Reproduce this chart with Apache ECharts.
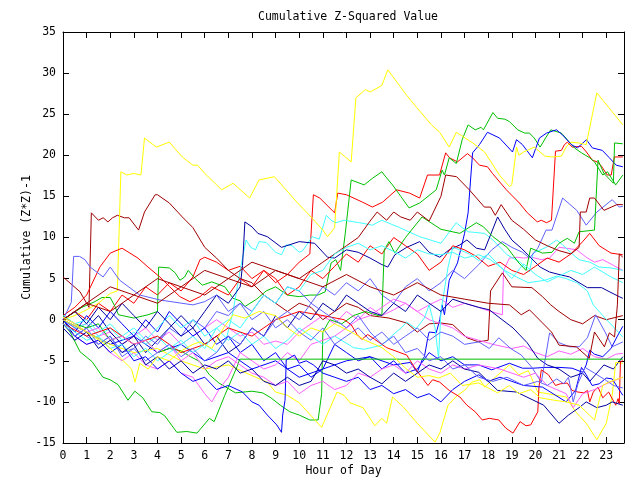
<!DOCTYPE html>
<html><head><meta charset="utf-8">
<script src="https://cdn.jsdelivr.net/npm/echarts@6/dist/echarts.min.js"></script>
<style>html,body{margin:0;padding:0;background:#fff}#c{width:640px;height:480px}</style>
</head><body><div id="c"></div>
<script>
// ---- data: [hour, cumulative value] breakpoints ----
const yTicks = [-15,-10,-5,0,5,10,15,20,25,30,35];
const xTicks = [0,1,2,3,4,5,6,7,8,9,10,11,12,13,14,15,16,17,18,19,20,21,22,23];

const R1 = [[0,0],[0.5,1],[1,0],[1.5,2],[2,1],[2.5,3],[3,2],[3.5,4],[4,3],[4.5,4.5],[5,3.5],[5.5,5.2],[5.8,7.3],[6,7.6],[6.5,7],[7,6],[7.5,6.5],[8,5],[8.5,6],[9,4.5],[9.5,5.5],[10,7],[10.45,8],[10.6,15.2],[10.87,14.8],[11.5,13],[11.63,15.4],[12,15.2],[12.68,14.3],[13.1,13.7],[13.53,14.3],[14.12,15.8],[14.67,15.4],[15.1,14.8],[15.43,17.6],[15.94,17.6],[16.2,20.3],[16.36,19.7],[16.7,19.2],[17.12,20.2],[17.34,19.7],[17.63,18.8],[17.97,18.6],[18.18,17.8],[18.77,15.8],[19.32,14.2],[19.66,13],[20.08,11.9],[20.25,12.1],[20.47,11.8],[20.68,12.1],[20.85,20.5],[21.1,20.6],[21.23,21.3],[21.35,21.6],[21.56,21],[21.95,21.1],[22.16,20.4],[22.41,19.4],[22.62,19.2],[22.79,18.7],[23.04,17.6],[23.21,17.6],[23.34,19.8],[23.7,19.8]];
const R2 = [[0,0.5],[0.5,1.5],[1,3],[1.56,6.4],[2,8.1],[2.5,8.7],[3.17,7.5],[3.6,6.4],[4.1,5.2],[4.52,4],[4.95,2.8],[5.37,2.2],[5.8,2.8],[6.3,4],[7,3],[7.5,5],[8,4],[8.5,6],[9,5],[9.5,3],[10,4],[10.5,6],[11,5],[11.5,6.5],[12,8],[12.5,7],[13,9],[13.5,8],[14,10],[14.5,9],[15,8],[15.5,6],[16,7],[16.5,9],[17,8.5],[17.5,7.7],[18,6.5],[18.5,7],[19,6],[19.5,5.5],[20,6.5],[20.5,7.5],[21,7],[21.5,8],[22,9.5],[22.3,10.5],[22.7,9],[23.2,8.1],[23.7,7.9]];
const R3 = [[0,-0.5],[1,-2],[2,-1],[3,-3],[4,-2],[5,-4],[6,-3],[7,-1],[8,-2],[9,0],[10,1],[11,0.5],[11.9,0],[12.2,-0.6],[12.45,-1.8],[12.65,-2.4],[12.9,-1.8],[13.2,-2.4],[13.7,-3.4],[14.55,-4.3],[14.95,-6.1],[15.45,-8],[15.65,-7.3],[15.95,-7.6],[16.35,-8.6],[16.8,-9.4],[17.1,-10.4],[17.45,-11.2],[17.75,-12.2],[18.05,-12],[18.45,-12.2],[18.75,-13.2],[19.05,-13.8],[19.35,-12.4],[19.6,-12.9],[19.8,-12.8],[20.1,-11.2],[20.15,-8.2],[20.25,-6.1],[20.55,-6.7],[20.85,-8],[21.05,-7.8],[21.35,-7.7],[21.55,-8.6],[21.8,-8.8],[22.05,-8.9],[22.2,-8.6],[22.3,-10],[22.45,-8.8],[22.65,-8.2],[22.85,-9.5],[23.1,-8.8],[23.4,-10.4],[23.5,-9.6],[23.55,-10.2],[23.6,-5.1],[23.7,-5]];

const G1 = [[0,0],[0.8,1.5],[1.35,2.2],[1.65,2.7],[2,2.7],[2.2,1.6],[2.35,0.6],[3,0.2],[3.6,0.6],[4.0,1.0],[4.05,6.4],[4.5,6.3],[4.75,5.7],[4.95,4.8],[5.15,5.2],[5.3,6.0],[5.6,5],[5.9,4.2],[6.3,4.6],[6.85,4.0],[7.2,2.6],[7.5,2.3],[7.7,1.6],[8.2,2.5],[8.6,3.5],[9,4],[9.5,3],[10,2.8],[10.45,3.0],[10.8,3.0],[11.1,3.4],[11.35,6.9],[11.55,7.3],[11.75,6],[11.95,10.5],[12.2,17],[12.75,16.4],[13.1,17.2],[13.5,18],[13.6,17.6],[13.95,16.4],[14.3,15],[14.65,13.6],[15.1,14.2],[15.8,15.8],[16.05,18.2],[16.15,17.6],[16.35,19.7],[16.65,19],[16.9,21.9],[17.15,23.7],[17.45,23.1],[17.7,23.4],[17.8,23.1],[18.2,25.2],[18.4,24.5],[18.7,24.4],[18.9,24.1],[19.25,23.1],[19.55,22.7],[19.75,22.7],[19.95,22.1],[20.2,21],[20.45,22.2],[20.65,23.1],[21.1,22.7],[21.35,21.9],[21.65,20.9],[21.95,20.3],[22.3,19.7],[22.5,19.2],[22.85,17.6],[23.05,18],[23.4,16.4],[23.7,17.6]];
const G2 = [[0,0.5],[0.5,-0.5],[1,-1],[1.5,-0.5],[2,-2.5],[2.5,-2],[3,-3],[3.5,-2.5],[4,-4],[4.5,-3.5],[5,-3.8],[5.4,-4.5],[5.8,-5.1],[6.2,-6.7],[6.6,-7.7],[7.3,-8.9],[8.0,-8.7],[8.45,-8.9],[8.8,-9.5],[9.2,-10.4],[9.6,-11.2],[10.0,-11.6],[10.45,-12.2],[10.8,-12.2],[10.95,-9],[11.0,-1.5],[11.3,0],[11.8,-0.5],[12.3,0.5],[12.8,1],[13.35,0.5],[13.5,0.6],[13.6,8.5],[13.8,9.5],[14.05,8.1],[14.5,10],[15.2,12.5],[16,11],[16.8,10.5],[17.5,11.8],[17.8,11.3],[18.2,10.1],[18.8,8.8],[19.3,6.9],[19.6,6.0],[19.8,8.7],[20.3,8.1],[20.7,8.2],[21.0,9.3],[21.35,9.9],[21.65,9.3],[21.85,10.7],[22.5,10.9],[22.65,19.4],[22.9,17.8],[23.3,16.6],[23.35,21.5],[23.7,21.4]];
const G3 = [[0,-0.5],[0.3,-1.5],[0.72,-3.9],[1.23,-5.1],[1.69,-7],[1.99,-7.3],[2.33,-7.9],[2.75,-9.8],[3.04,-8.7],[3.38,-9.5],[3.76,-11.2],[4.1,-11.3],[4.31,-11.7],[4.82,-13.7],[5.24,-13.6],[5.67,-13.8],[5.79,-13.4],[6.2,-12],[6.4,-12.4],[6.85,-9.2],[7.4,-5.5],[7.48,-4.8],[23.7,-4.8]];

const B1 = [[0,0],[1,-1.5],[2,-3],[3,-2],[4,-4],[5,-3],[6,-5],[7,-4],[8,-6],[9,-5],[10,-7],[11,-6],[12,-5],[13,-4.5],[14,-5.5],[14.7,-5.2],[15.0,-6.4],[15.2,-4.9],[15.3,-4.5],[15.45,-2.1],[15.5,-1.5],[15.8,-1.6],[15.95,0],[16.05,1.8],[16.15,0.6],[16.35,4.8],[16.7,6.9],[17.0,10.5],[17.15,13],[17.34,20.3],[17.63,21.3],[17.97,22.8],[18.48,22.1],[19.03,20.4],[19.2,21.9],[19.45,21.3],[19.87,19.7],[20.17,22.1],[20.47,22.7],[20.89,23.1],[21.14,22.5],[21.52,21.3],[21.78,20.9],[22.16,21.9],[22.41,20.9],[22.83,20.6],[23.13,19.7],[23.42,18.8],[23.7,18.6]];
const B2 = [[0,0],[0.5,-1.5],[1,0.5],[1.5,-1],[2,1],[2.5,-0.5],[3,-2],[3.5,0],[4,-1.5],[4.5,1],[5,-0.5],[5.5,-2],[6,-1],[6.5,-3],[7,-2],[7.5,-4],[8,-3],[8.5,-5],[9,-4],[9.5,-6],[10,-5.5],[10.5,-7],[11,-6],[11.5,-3],[12,-4],[12.5,-5],[13,-4.5],[13.5,-6],[14,-5],[14.5,-6.5],[15,-6],[15.5,-4],[16,-5],[16.5,-4.5],[17,-5.5],[17.6,-5.5],[18.15,-6.1],[18.9,-5.3],[19.45,-5.9],[19.9,-5.9],[20.45,-5.8],[21,-5.8],[21.55,-5.9],[22,-6.4],[22.15,-5.5],[22.3,-3.7],[22.5,-4.2],[22.85,-4.5],[23.2,-3.5],[23.45,-2.1],[23.7,-0.8]];
const B3 = [[0,-0.5],[0.5,-2],[1,-3],[1.5,-2.5],[2,-4],[2.5,-3],[3,-5],[3.5,-4.5],[4,-6],[4.5,-5],[5,-6.5],[5.5,-7.5],[6,-7],[6.5,-8.5],[7,-8],[7.6,-8.8],[8,-10],[8.3,-10.4],[8.65,-11.6],[9.05,-12.8],[9.25,-13.7],[9.3,-11.6],[9.4,-9.8],[9.45,-4.9],[9.8,-4.3],[10.0,-5.3],[10.3,-5],[10.6,-5.5],[11,-6.5],[11.5,-7],[12,-7.5],[12.5,-7],[13,-8.5],[13.5,-8],[14,-9],[14.5,-8.5],[15,-9.5],[15.5,-9],[16,-10],[16.5,-8.5],[17,-7.5],[17.6,-6.7],[18.0,-7.5],[18.5,-7],[19,-7.5],[19.5,-8],[20.3,-8.2],[21.3,-10],[21.7,-8.6],[21.95,-5.8],[22.15,-6.7],[22.4,-8],[22.7,-7.8],[23.0,-7.1],[23.25,-7.2],[23.7,-9.2]];

const N1 = [[0,0],[0.5,-2],[1,-1],[1.5,0.5],[2,-1.5],[2.5,-3],[3,-2],[3.5,-4],[4,-2.5],[4.5,-1],[5,0.5],[5.5,-1],[6,1],[6.5,3],[7,2],[7.5,4],[7.6,6.6],[7.7,11.9],[8.0,11.3],[8.25,10.5],[8.65,10.1],[9.25,8.8],[10,9.5],[10.65,9.3],[11.2,7.6],[11.5,7.5],[12,8.5],[12.5,8.2],[13,7.5],[13.5,6.7],[13.75,6.4],[14.05,7.9],[14.55,8.8],[15.1,9.5],[15.5,8.2],[15.95,7.6],[16.35,8.5],[16.8,9.1],[17.1,9.7],[17.5,8.7],[17.85,8.5],[18.4,12.5],[18.7,11],[19.0,9.7],[19.4,8.7],[20.2,6.4],[20.6,5.8],[21.0,5.5],[21.45,5.2],[22.2,3.9],[22.8,3.9],[23.2,3.3],[23.55,2.8],[23.7,2.6]];
const N2 = [[0,0],[0.5,1],[1,-0.5],[1.5,1.5],[2,0],[2.5,2],[3,0.5],[3.5,-1],[4,1],[4.5,-0.5],[5,-2],[5.5,-1],[6,-3],[6.5,-2],[7,-4],[7.5,-3],[8,-1],[8.5,-2],[9,0.5],[9.5,-1],[10,1],[10.5,0],[11,2],[11.5,1],[12,3],[12.5,2],[13,1],[13.5,0.5],[14,2],[14.5,1],[15,3],[15.5,2],[16,1],[16.5,2.5],[17,2],[17.6,1.5],[18.05,1.2],[18.5,0.2],[19.05,-1],[19.65,-2.8],[20.1,-4.7],[20.5,-5.5],[21,-6],[21.5,-7],[22,-6.5],[22.3,-7.5],[22.6,-6.5],[22.9,-5.5],[23.3,-6],[23.7,-4.5]];
const N3 = [[0,-1],[0.5,-2.5],[1,-1.5],[1.5,-3.5],[2,-2.5],[2.5,-4],[3,-3],[3.5,-5.5],[4,-4.5],[4.5,-6],[5,-5],[5.5,-6.5],[6,-5.5],[6.5,-6],[7,-5],[7.5,-6.5],[8,-6],[8.5,-7.5],[9,-8],[9.5,-7],[10,-8],[10.5,-7.5],[11,-5],[11.5,-5.5],[12,-6.5],[12.5,-6],[13,-7],[13.5,-7.8],[14,-6.5],[14.5,-7.5],[15,-6.5],[15.5,-5.5],[16,-6],[16.5,-5],[17,-6],[17.6,-6.4],[18.4,-8.6],[19.2,-8.8],[20.35,-10.4],[21,-12.6],[21.4,-11.6],[21.85,-10.7],[22.15,-10],[22.6,-10.7],[23,-10.4],[23.25,-10],[23.7,-10.4]];

const P1 = [[0,0],[0.5,-1],[1,-2],[1.5,-3],[2,-2],[2.5,-4],[3,-3.5],[3.5,-2],[4,-3],[4.5,-1],[5,-2],[5.5,0],[6,-1],[6.5,1],[7,0.5],[7.5,2],[8,1],[8.5,3],[9,2],[9.5,4],[10,3.5],[10.5,2],[11,4],[11.5,3],[12,4.5],[12.5,3.5],[13,5],[13.5,3],[14,2],[14.5,4],[15,5],[15.5,3.5],[16,4.5],[16.5,6],[17,5],[17.6,6.7],[18.15,8.5],[18.6,9.5],[19.0,8.8],[19.45,8.2],[19.75,7.5],[20.1,8.7],[20.45,10.9],[20.7,10.9],[21.15,14.8],[21.75,13.3],[22.15,11.5],[22.6,13.1],[23.25,14.6],[23.55,13.7],[23.7,13.8]];
const P2 = [[0,0],[0.35,2.1],[0.45,7.7],[0.7,7.7],[0.93,7.3],[1.15,6.4],[1.7,5.2],[2,6.4],[2.4,4.8],[3.25,3.0],[4.1,2.4],[5.5,1.8],[6,2.2],[6.5,3],[7,1],[7.5,2],[8,0],[8.5,1],[9,-1],[9.5,0],[10,-1.5],[10.5,-2.5],[11,-1],[11.5,-3],[12,-2],[12.5,-1],[13,-2.5],[13.5,-1.5],[14,-3],[14.5,-2],[15,-1],[15.5,-2.5],[16,-1.5],[16.5,-2],[17,-3],[17.6,-2.7],[18.05,-3.5],[18.45,-2.2],[18.95,-3.5],[19.4,-4.3],[19.85,-5.8],[20.25,-7.6],[20.6,-1.6],[21,-2.8],[21.45,-3.3],[21.85,-3.3],[22.2,-2.2],[22.55,0.6],[22.95,-1.5],[23.25,-3.3],[23.7,-2.7]];
const P3 = [[0,-0.5],[0.5,-2],[1,-1],[1.5,-3],[2,-2],[2.5,-4.5],[3,-3.5],[3.5,-5],[4,-4],[4.5,-3],[5,-4.5],[5.5,-3.5],[6,-5],[6.5,-4],[7,-2],[7.5,-3],[8,-1],[8.5,-2],[9,0],[9.5,1],[10,0],[10.5,2],[11,1],[11.5,0],[12,-1],[12.5,0.5],[13,-1.5],[13.5,-3],[14,-2],[14.5,-4],[15,-3.5],[15.5,-5],[16,-4.5],[16.5,-6],[17,-5.5],[17.6,-7],[18.2,-7.5],[18.8,-7],[19.5,-8],[20.1,-7.5],[20.5,-8],[20.9,-7.2],[21.2,-7.8],[21.4,-7],[21.6,-10],[21.8,-7.8],[22.1,-5.8],[22.5,-6.5],[23,-7.4],[23.3,-8],[23.7,-8.3]];

const C1 = [[0,0],[0.5,-1],[1,-0.5],[1.5,-2],[2,-1],[2.5,-2.5],[3,-1.5],[3.5,-3],[4,-2],[4.5,-3.5],[5,-2.5],[5.5,-4],[6,-3],[6.5,-4],[6.9,-2.5],[7.2,1],[7.5,6],[7.75,9.7],[7.95,8.8],[8.15,8.5],[8.3,9.5],[8.6,9.4],[9.0,8.2],[9.25,7.9],[9.45,9.1],[9.7,9],[10,8.2],[10.15,8.4],[10.55,10.1],[10.85,9.8],[11.15,12.7],[11.35,12.1],[11.55,11.8],[11.9,12.1],[12.55,11.8],[13.1,11.5],[13.5,12.1],[14.25,11.2],[15.1,10.1],[16.0,9.3],[16.65,11.8],[16.9,11.2],[17.15,10.7],[17.85,10.5],[18.2,9.7],[18.8,7.9],[19.35,7.0],[19.75,5.8],[19.9,8.1],[20.45,8.8],[20.9,9.7],[21.15,9.1],[21.6,7.9],[21.85,7.3],[22.3,7.0],[22.7,6.4],[23.2,6.3],[23.7,6.0]];
const C2 = [[0,0.5],[0.5,-0.5],[1,0],[1.5,-1.5],[2,-0.5],[2.5,-2],[3,-1],[3.5,-2.5],[4,-1],[4.5,0.5],[5,-1],[5.5,0],[6,-2],[6.5,-1],[7,-2.5],[7.5,-1.5],[8,-3],[8.5,-2],[9,-3.5],[9.5,-2.5],[10,-1],[10.5,-2],[11,-3],[11.5,-2],[12.3,-3.4],[12.75,-3.6],[13.5,-3.1],[13.95,-1.9],[14.35,-0.9],[14.55,-0.3],[14.95,-1.1],[15.3,0.2],[15.5,1.8],[15.75,-1],[15.9,-4.7],[16.0,1],[16.3,6.4],[16.5,8.8],[16.8,8.5],[17.2,8],[17.6,7.2],[18,8],[18.5,6.5],[19,5],[19.5,6.8],[20,5.5],[20.5,4.6],[21,5.3],[21.5,6],[22,5.5],[22.5,6.4],[23.2,5.2],[23.7,4.5]];
const C3 = [[0,-0.5],[0.5,-1.5],[1,-2.5],[1.5,-2],[2,-3.5],[2.5,-3],[3,-4.5],[3.5,-3.5],[4,-5],[4.5,-4],[5,-3],[5.5,-2],[6,-3.5],[6.5,-1],[7,0],[7.5,-1],[8,1],[8.5,3],[9,2],[9.5,4],[10,3.5],[10.5,5.5],[11,6],[11.5,8],[12,8.8],[12.5,9.3],[13,8.5],[13.5,9],[14,8.3],[14.5,7.5],[15,8.5],[15.5,8],[16,7.9],[16.5,8.2],[17,7.5],[17.6,7.9],[18.1,7.3],[18.7,6],[19.2,5.2],[19.7,4.5],[20.4,4.8],[20.9,5.3],[21.3,5],[21.75,4.5],[22.2,3.5],[22.45,1.8],[22.95,0.2],[23.7,-2.1]];

const M1 = [[0,0],[0.5,-1],[1,-0.5],[1.5,-2],[2,-1.5],[2.5,-3],[3,-2],[3.5,-1],[4,-2.5],[4.5,-1.5],[5,-3],[5.5,-2],[6,-1],[6.5,0],[7,-1],[7.5,-2],[8,-1.5],[8.5,-3],[9,-2.6],[9.5,-3],[10,-1.5],[10.5,-0.5],[11,0.5],[11.5,-0.5],[12,1],[12.5,0],[13,1.5],[13.5,0.5],[14,1.2],[14.5,2],[15,1],[15.5,1.8],[16,2.5],[16.5,1.5],[17,2],[17.6,1.5],[18.1,1],[18.6,0.6],[18.65,6.0],[18.9,7.5],[19.25,7.6],[19.5,7.5],[19.85,7.6],[20.25,7.3],[20.6,7.5],[21.0,8.8],[21.3,8.7],[21.75,8.5],[22.15,7.6],[22.5,7.0],[22.85,7.3],[23.25,6.7],[23.7,6.0]];
const M2 = [[0,-0.5],[0.5,-2],[1,-3],[1.5,-2.5],[2,-4],[2.5,-5],[3,-4],[3.5,-5.5],[4,-6],[4.5,-5],[5,-6.5],[5.5,-7],[6,-9],[6.3,-10],[6.6,-8.5],[7,-7],[7.5,-4],[8,-5],[8.5,-6],[9,-5.5],[9.5,-4],[10,-5],[10.5,-3],[11,-2.5],[11.5,-2],[12,-1],[12.5,0],[13,0.5],[13.5,1.5],[14,2.5],[14.5,2],[15,1],[15.5,0],[16,-0.5],[16.5,-1],[17,-2],[17.6,-2.5],[18.2,-3],[19,-3.5],[19.5,-3.2],[20,-4],[20.5,-4.5],[21,-3.8],[21.5,-4.2],[22,-3.5],[22.5,-4.5],[23,-4.8],[23.4,-4.2],[23.7,-4.1]];
const M3 = [[0,0.3],[0.5,-0.5],[1,-1.5],[1.5,-1],[2,-2.5],[2.5,-2],[3,-3],[3.5,-2.5],[4,-4],[4.5,-3],[5,-5],[5.5,-4],[6,-6],[6.5,-5],[7,-4.5],[7.5,-5.5],[8,-6.5],[8.5,-7],[9,-8],[9.5,-7.5],[10,-9],[10.5,-8],[11,-7.5],[11.5,-8.5],[12,-8],[12.5,-6.5],[13,-7],[13.5,-6],[14,-5.5],[14.5,-6.5],[15,-5],[15.5,-6],[16,-6.5],[16.5,-5.5],[17,-6],[17.6,-5.5],[18.5,-6],[19.5,-7],[20,-6.5],[20.5,-8],[21.3,-9],[21.6,-10.7],[22,-9],[22.5,-8.5],[23,-7.8],[23.7,-7]];

const D1 = [[0,5.2],[0.72,3.4],[1.1,1.5],[1.2,13],[1.5,12.1],[1.7,12.4],[1.9,11.9],[2.1,12.4],[2.3,12.7],[2.6,12.4],[2.8,12.4],[3.2,10.9],[3.45,13.1],[3.9,15.2],[4.0,15.2],[4.5,14.2],[5.05,12.5],[5.5,11.2],[6.0,8.8],[6.5,7.5],[7,6],[7.5,5],[8,4.5],[8.5,3],[9,2],[9.5,1],[10,2],[10.5,1.5],[11,0],[11.5,1],[12,2],[12.5,1.5],[13,0.5],[13.8,0.2],[14.55,-0.4],[15,-1.5],[15.5,-0.5],[16,-0.4],[16.5,-0.6],[17.1,-2.2],[17.6,-2.7],[18.0,-2.5],[18.1,3.5],[18.6,5.7],[19.0,4],[19.85,3.9],[20.3,2.8],[20.65,1.8],[21,1],[21.5,0],[22,-0.5],[22.5,0.5],[23,0],[23.7,0.5]];
const D2 = [[0,0],[1,2],[2,4],[3,3],[4,5],[5,4],[6,6],[7,5],[8,7],[9,6],[10,5],[10.5,6],[11,7],[11.5,8],[12,9],[12.5,10],[13,12],[13.3,13.1],[13.7,12.1],[14,13.1],[14.3,12.5],[14.7,12.1],[15,13.1],[15.5,12],[16,15],[16.2,17.6],[16.66,17.4],[17.2,15.8],[17.84,13.7],[18.1,13.7],[18.3,12.7],[18.55,14],[19.0,12.1],[19.5,11],[20,9.7],[20.5,9],[21,8.4],[21.5,8],[21.85,8.8],[21.9,13.1],[22.15,13.1],[22.3,14.8],[22.5,14.8],[22.9,13.3],[23.45,14],[23.7,14]];
const D3 = [[0,0],[1,2],[2,1],[3,3],[4,2],[5,4],[6,3],[7,5],[8,4],[9,6],[10,5],[11,4],[12,5.5],[13,4],[14,3],[15,4.5],[16,3],[17,2.5],[18,2],[18.9,1.8],[19.4,0.6],[19.75,1.2],[20.68,-1.5],[21.0,-3.1],[21.73,-3.3],[22.28,-4.7],[22.5,-1.5],[22.92,-3.3],[23.13,-1.6],[23.35,-2.1],[23.47,1.8],[23.55,8],[23.7,7.6]];

const Y1 = [[0,0],[0.5,0.5],[1,1.2],[1.5,2],[2,3.2],[2.3,3.5],[2.45,18],[2.7,17.6],[3,17.8],[3.3,17.6],[3.45,22.1],[3.95,21],[4.5,21.6],[5.05,19.8],[5.5,18.8],[5.7,18.8],[6,17.8],[6.72,15.8],[7.2,16.6],[7.9,14.8],[8.3,17],[8.95,17.4],[9.9,14.3],[10.5,12.5],[11,10.9],[11.2,10.1],[11.5,11.2],[11.7,20.4],[12.2,19.2],[12.4,27],[12.8,28],[13.0,27.7],[13.5,28.5],[13.75,30.4],[14.55,27.3],[14.95,25.9],[15.6,23.7],[15.95,22.8],[16.35,21],[16.65,22.8],[17.35,21.5],[17.85,20.4],[18.5,17.5],[18.9,16.2],[19.0,16.4],[19.2,21],[19.3,20],[19.5,20.4],[19.95,21],[20.4,19.9],[20.7,19.8],[21.1,19.9],[21.3,21],[21.5,21.6],[21.85,21.5],[22.15,21.3],[22.6,27.6],[23.7,23.7]];
const Y2 = [[0,0],[1,-1.5],[2,-3],[3,-4],[4,-3.5],[5,-5],[6,-6],[7,-5.5],[8,-6.8],[8.65,-7.6],[9,-8.8],[9.5,-9.2],[10,-10.1],[10.95,-13.1],[11.6,-8.8],[11.9,-9.2],[12.15,-10.1],[12.7,-10.7],[13.2,-12.9],[13.5,-12],[13.7,-12.6],[13.95,-9.4],[14.4,-10.6],[15,-12.6],[15.75,-14.9],[15.95,-13.8],[16.3,-10.4],[16.7,-9.2],[17,-8.6],[17.3,-7.6],[17.65,-7.3],[17.85,-8.2],[18.3,-7],[18.9,-5.5],[19.3,-6.7],[19.7,-6.2],[20.1,-8.8],[20.9,-9.2],[21.3,-9.4],[21.7,-11.2],[22.15,-12.6],[22.6,-14.6],[23,-12.6],[23.25,-9.2],[23.4,-5.2],[23.7,-5.3]];
const Y3 = [[0,0.3],[0.5,-0.5],[1.2,-1.9],[1.8,-3],[2.2,-4],[2.9,-6],[3.05,-7.6],[3.25,-5.3],[3.6,-6],[4,-4.5],[4.5,-5],[5,-3.8],[5.5,-3],[5.8,-2.7],[6.3,-3.5],[6.8,-1],[7.2,0.6],[7.7,0.2],[8.3,1],[9,0.5],[9.5,-1],[10,-2],[10.5,-1],[11,-1.5],[11.5,-0.5],[12.2,-1.5],[12.8,-2.5],[13.5,-3.4],[14,-4.5],[14.5,-5.9],[15,-7],[15.5,-6.8],[15.9,-7.1],[16.4,-6.5],[16.9,-8],[17.6,-7.7],[18.0,-8.3],[18.4,-8.9],[18.9,-8],[19.3,-9],[19.8,-8.5],[20.2,-9.5],[20.8,-9.8],[21.3,-10],[21.85,-10.4],[22.5,-12.2],[22.85,-8],[23.1,-7.6],[23.4,-7.3],[23.7,-7]];

const seriesList = [
  ['R1', R1, '#ff0000'], ['G1', G1, '#00c000'], ['B1', B1, '#0000ff'], ['M1', M1, '#ff60ff'], ['C1', C1, '#40ffff'], ['D1', D1, '#a00000'], ['N1', N1, '#0000a0'], ['P1', P1, '#6060ff'], ['Y1', Y1, '#ffff00'],
  ['R2', R2, '#ff0000'], ['G2', G2, '#00c000'], ['B2', B2, '#0000ff'], ['M2', M2, '#ff60ff'], ['C2', C2, '#40ffff'], ['D2', D2, '#a00000'], ['N2', N2, '#0000a0'], ['P2', P2, '#6060ff'], ['Y2', Y2, '#ffff00'],
  ['R3', R3, '#ff0000'], ['G3', G3, '#00c000'], ['B3', B3, '#0000ff'], ['M3', M3, '#ff60ff'], ['C3', C3, '#40ffff'], ['D3', D3, '#a00000'], ['N3', N3, '#0000a0'], ['P3', P3, '#6060ff'], ['Y3', Y3, '#ffff00']
];

const FONT = 'DejaVu Sans Mono';
const chart = echarts.init(document.getElementById('c'), null, {renderer: 'canvas'});
const axisCommon = {
  axisLine: {show: true, onZero: false, lineStyle: {color: '#000', width: 1}},
  axisTick: {show: true, inside: true, length: 6, lineStyle: {color: '#000'}},
  splitLine: {show: false}
};
chart.setOption({
  animation: false,
  backgroundColor: '#fff',
  title: {text: 'Cumulative Z-Squared Value', left: 343, top: 6, textAlign: 'center',
    textStyle: {fontFamily: FONT, fontSize: 11.5, fontWeight: 'normal', color: '#000'}},
  grid: {left: 63, right: 16, top: 32, bottom: 37, containLabel: false, outerBoundsMode: 'none'},
  xAxis: [
    Object.assign({type: 'value', position: 'bottom', min: 0, max: 23.75, interval: 1,
      name: 'Hour of Day', nameLocation: 'middle', nameGap: 22, nameMoveOverlap: false,
      nameTextStyle: {fontFamily: FONT, fontSize: 11.5, color: '#000'},
      axisLabel: {fontFamily: FONT, fontSize: 11.5, color: '#000', margin: 7,
        formatter: v => (xTicks.indexOf(v) >= 0 ? String(v) : '')}}, axisCommon),
    Object.assign({type: 'value', position: 'top', min: 0, max: 23.75, interval: 1,
      axisLabel: {show: false}}, axisCommon)
  ],
  yAxis: [
    Object.assign({type: 'value', position: 'left', min: -15, max: 35, interval: 5,
      name: 'Cumulative (Z*Z)-1', nameLocation: 'middle', nameGap: 30, nameRotate: 90, nameMoveOverlap: false,
      nameTextStyle: {fontFamily: FONT, fontSize: 11.5, color: '#000'},
      axisLabel: {fontFamily: FONT, fontSize: 11.5, color: '#000', margin: 7,
        formatter: v => (yTicks.indexOf(v) >= 0 ? String(v) : '')}}, axisCommon),
    Object.assign({type: 'value', position: 'right', min: -15, max: 35, interval: 5,
      axisLabel: {show: false}}, axisCommon)
  ],
  series: seriesList.map(s => ({
    name: s[0], type: 'line', data: s[1], xAxisIndex: 0, yAxisIndex: 0,
    showSymbol: false, symbol: 'none', smooth: false,
    lineStyle: {color: s[2], width: 1}, itemStyle: {color: s[2]},
    emphasis: {disabled: true}, silent: true
  }))
});
</script></body></html>
